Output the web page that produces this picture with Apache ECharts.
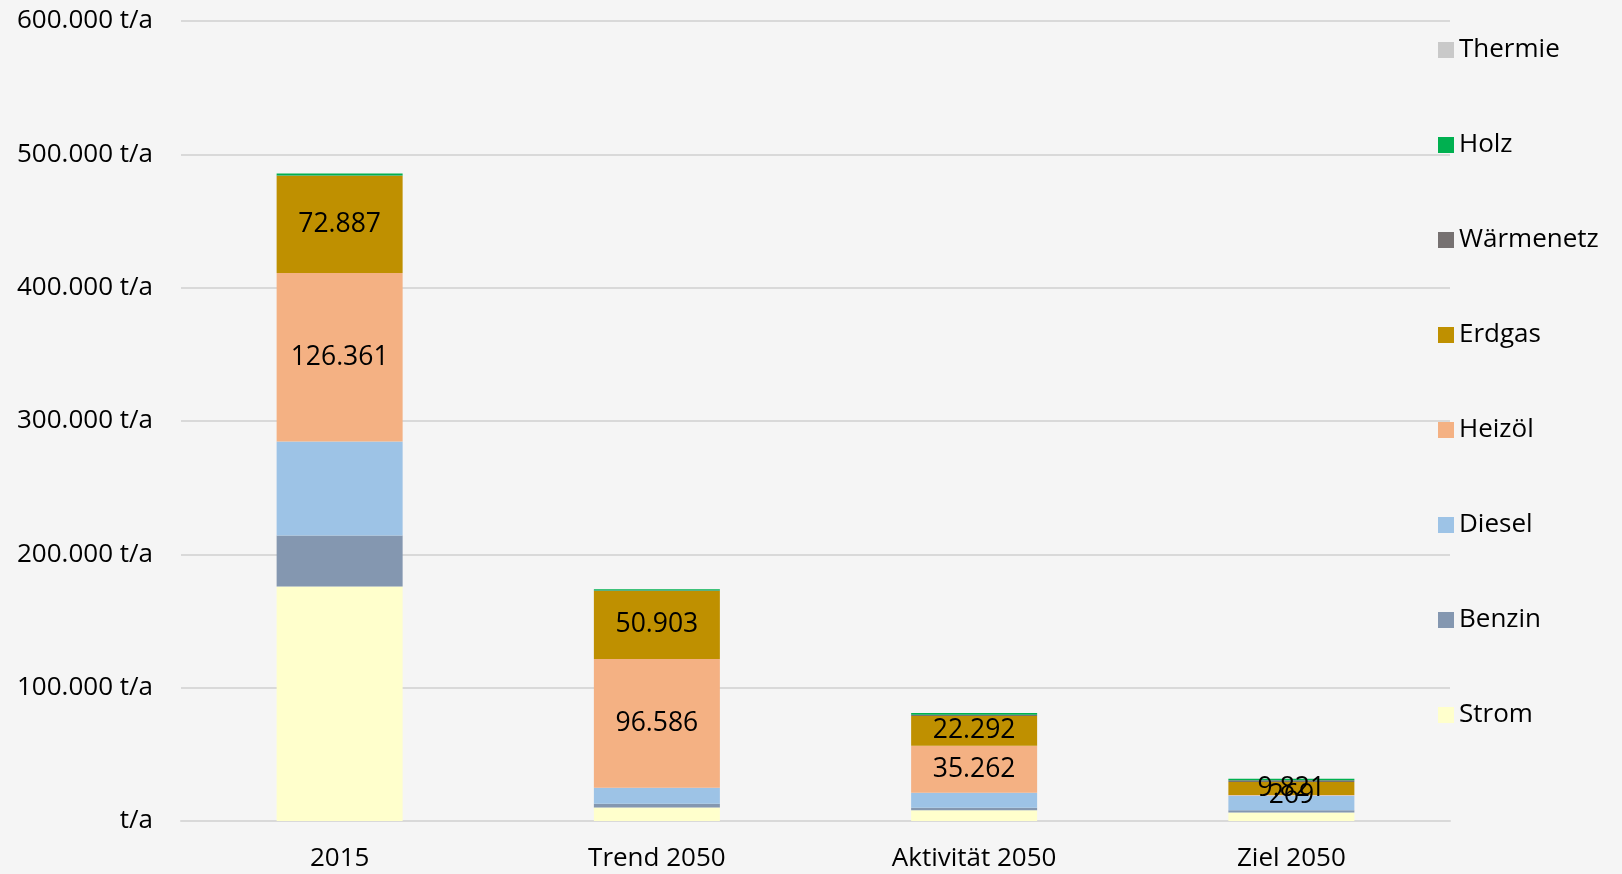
<!DOCTYPE html>
<html>
<head>
<meta charset="utf-8">
<script src="https://cdn.jsdelivr.net/npm/echarts@6/dist/echarts.min.js"></script>
<style>
  html, body { margin: 0; padding: 0; background: #f5f5f5; }
  #main { width: 1622px; height: 874px; }
</style>
</head>
<body>
<div id="main"></div>
<script>
  // Kategorien und Werte (t/a)
  var categories = ['2015', 'Trend 2050', 'Aktivität 2050', 'Ziel 2050'];
  var strom = [175900, 10200, 8000, 6300];
  var benzin = [38200, 2800, 2000, 1700];
  var diesel = [70500, 12000, 11200, 11200];
  var heizoel = [126361, 96586, 35262, 269];
  var erdgas = [72887, 50903, 22292, 9821];
  var waermenetz = [300, 300, 1000, 1200];
  var holz = [1500, 1000, 1200, 1200];
  var thermie = [0, 0, 0, 0];
  var yTicks = [0, 100000, 200000, 300000, 400000, 500000, 600000];

  function fmt(v) {
    return String(Math.round(v)).replace(/\B(?=(\d{3})+(?!\d))/g, '.');
  }

  var font = '"Open Sans", sans-serif';

  function mkSeries(name, data, color, showLabel) {
    return {
      name: name,
      type: 'bar',
      stack: 'gesamt',
      barWidth: 126,
      data: data,
      itemStyle: { color: color },
      label: {
        show: !!showLabel,
        position: 'inside',
        color: '#000',
        fontFamily: font,
        fontSize: 26.5,
        formatter: function (p) { return fmt(p.value); }
      },
      emphasis: { disabled: true }
    };
  }

  var chart = echarts.init(document.getElementById('main'));
  var option = {
    backgroundColor: '#f5f5f5',
    animation: false,
    grid: { left: 181, right: 172, top: 21, bottom: 53 },
    legend: {
      orient: 'vertical',
      left: 1433,
      top: 32,
      itemWidth: 16,
      itemHeight: 16,
      itemGap: 69,
      icon: 'rect',
      textStyle: { fontFamily: font, fontSize: 26, color: '#000', lineHeight: 26 },
      data: ['Thermie', 'Holz', 'Wärmenetz', 'Erdgas', 'Heizöl', 'Diesel', 'Benzin', 'Strom']
    },
    xAxis: {
      type: 'category',
      data: categories,
      axisLine: { lineStyle: { color: '#d9d9d9', width: 2 } },
      axisTick: { show: false },
      axisLabel: { fontFamily: font, fontSize: 26, color: '#000', margin: 25 }
    },
    yAxis: {
      type: 'value',
      min: yTicks[0],
      max: yTicks[yTicks.length - 1],
      interval: 100000,
      axisLine: { show: false },
      axisTick: { show: false },
      splitLine: { lineStyle: { color: '#d9d9d9', width: 2 } },
      axisLabel: {
        fontFamily: font, fontSize: 26, color: '#000', margin: 28,
        formatter: function (v) { return v === 0 ? 't/a' : fmt(v) + ' t/a'; }
      }
    },
    series: [
      mkSeries('Strom', strom, '#ffffcc'),
      mkSeries('Benzin', benzin, '#8497b0'),
      mkSeries('Diesel', diesel, '#9dc3e6'),
      mkSeries('Heizöl', heizoel, '#f4b183', true),
      mkSeries('Erdgas', erdgas, '#bf9000', true),
      mkSeries('Wärmenetz', waermenetz, '#767171'),
      mkSeries('Holz', holz, '#00b050'),
      mkSeries('Thermie', thermie, '#c9c9c9')
    ]
  };
  chart.setOption(option);
</script>
</body>
</html>
